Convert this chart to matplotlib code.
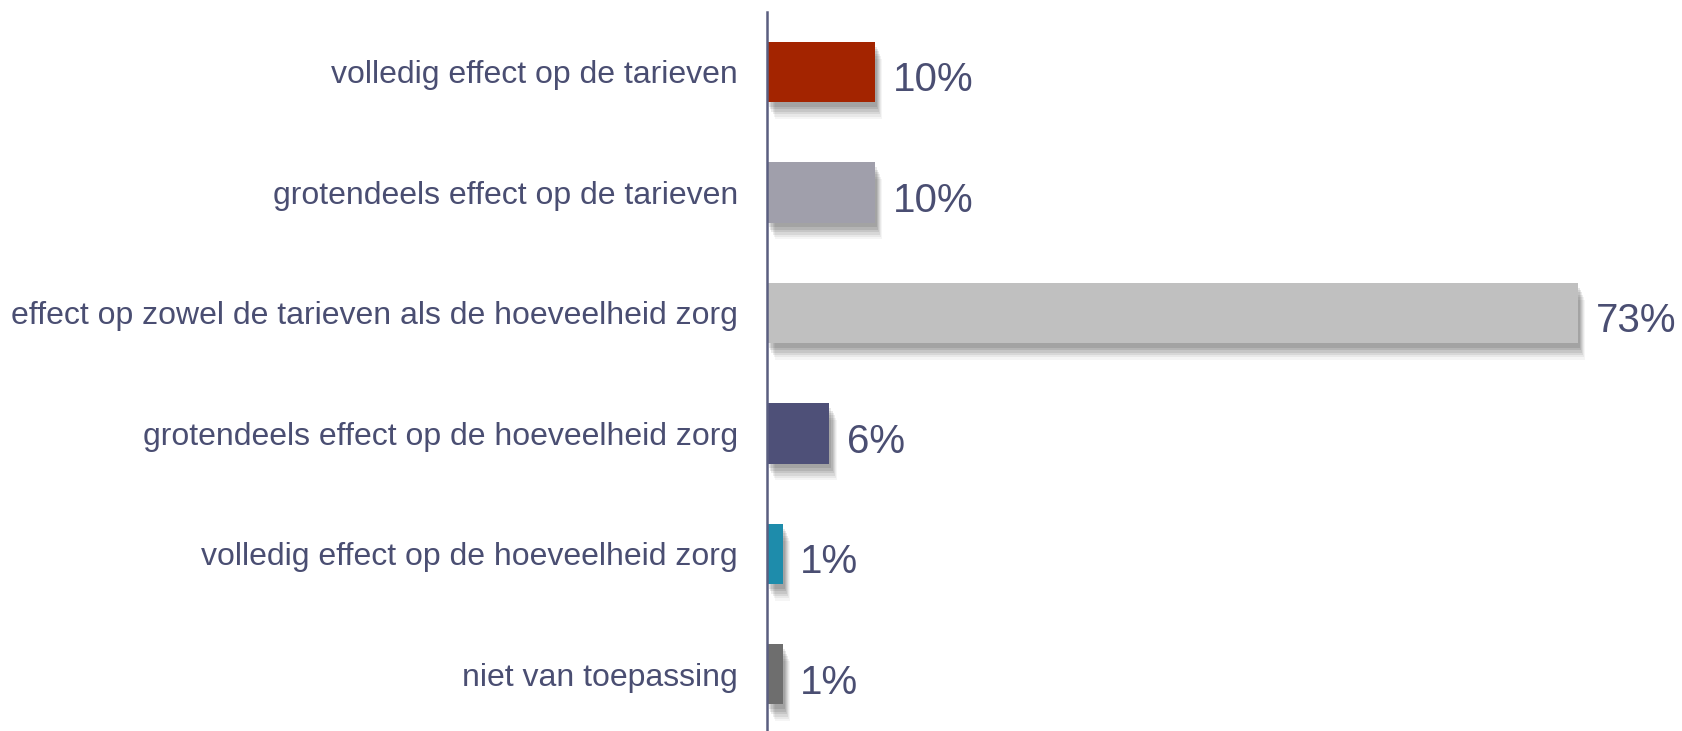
"""Horizontal bar chart: effect op tarieven / hoeveelheid zorg."""

import matplotlib
matplotlib.use("Agg")
import matplotlib.pyplot as plt

plt.rcParams["font.family"] = ["Liberation Sans", "DejaVu Sans"]

categories = [
    "volledig effect op de tarieven",
    "grotendeels effect op de tarieven",
    "effect op zowel de tarieven als de hoeveelheid zorg",
    "grotendeels effect op de hoeveelheid zorg",
    "volledig effect op de hoeveelheid zorg",
    "niet van toepassing",
]
values = [9.7, 9.7, 73.0, 5.6, 1.4, 1.4]
value_labels = ["10%", "10%", "73%", "6%", "1%", "1%"]
colors = ["#A32400", "#A09FAB", "#C0C0C0", "#4E5078", "#1E8CAB", "#6E6E6E"]

text_color = "#4A4E72"

fig = plt.figure(figsize=(16.82, 7.31), dpi=100)
ax = fig.add_axes([0.456, 0.0, 0.544, 0.984])

ypos = list(range(len(categories)))

# soft drop shadow: several offset bars with low alpha to fake a blur
for dx, dy, a in [(0.7, 0.14, 0.04), (0.6, 0.12, 0.05), (0.5, 0.10, 0.07),
                  (0.4, 0.08, 0.08), (0.3, 0.06, 0.09), (0.2, 0.04, 0.09)]:
    ax.barh([y + dy for y in ypos], values, left=dx,
            height=0.5, color="#000000", alpha=a, linewidth=0, zorder=1)

ax.barh(ypos, values, height=0.5, color=colors, linewidth=0, zorder=2)

for y, v, lab in zip(ypos, values, value_labels):
    ax.text(v + 1.6, y + 0.035, lab, va="center_baseline", ha="left",
            fontsize=29, color=text_color, zorder=3)

ax.set_xlim(0, 82.4)
ax.set_ylim(5.47, -0.50)
ax.set_yticks(ypos)
ax.set_yticklabels(categories, fontsize=23, color=text_color)
ax.tick_params(axis="y", length=0, pad=21)
ax.set_xticks([])

for side in ["top", "right", "bottom"]:
    ax.spines[side].set_visible(False)
ax.spines["left"].set_color("#5A5E80")
ax.spines["left"].set_linewidth(1.8)
ax.spines["left"].set_zorder(4)

fig.savefig("out.png", dpi=100)
plt.close(fig)
